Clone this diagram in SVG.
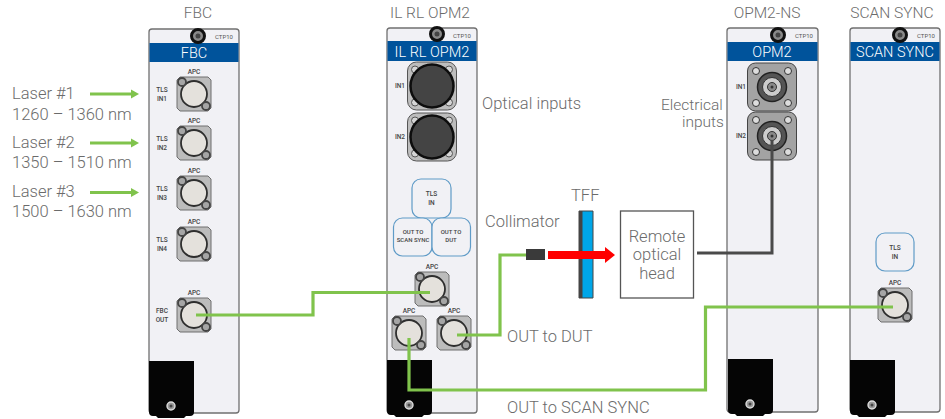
<svg xmlns="http://www.w3.org/2000/svg" width="945" height="419" viewBox="0 0 945 419">
<style>
text{font-family:Roboto,"Liberation Sans",sans-serif;fill:#6b6b6b;font-weight:300}
.lbl{font-size:16.500px}
.ttl{font-size:15.500px;text-anchor:middle}
.mid{text-anchor:middle}
.hd{font-size:14.500px;fill:#fff;text-anchor:middle;font-weight:300}
.ctp{font-size:6px;fill:#555;text-anchor:middle;font-weight:400}
.sm{font-size:6.500px;fill:#444;text-anchor:middle;font-weight:500}
.panel{fill:#f1f1f5;stroke:#707070;stroke-width:1.300}
.blue{fill:#00539b}
.soft{fill:#f1f1f5;stroke:#5f9bc7;stroke-width:1.200}
.gr{fill:none;stroke:#80c34c;stroke-width:3.200;stroke-linejoin:miter}
.dk{fill:none;stroke:#4a4a4a;stroke-width:3}
.head{fill:#80c34c}
</style>
<defs>
<g id="apc">
<path d="M-14-17H14L17-14V14L14 17H-14L-17 14V-14Z" fill="#bcbcbc" stroke="#6e6e6e" stroke-width="1"/>
<circle r="13" fill="#e4e1dc" stroke="#2e2e2e" stroke-width="1.800"/>
<circle cx="-12" cy="-12" r="4" fill="#a5a5a5" stroke="#444" stroke-width="1.800"/>
<circle cx="12" cy="12" r="4" fill="#a5a5a5" stroke="#444" stroke-width="1.800"/>
<text class="sm" y="-20">APC</text>
</g>
<g id="latch">
<path d="M0 0H45V51Q45 55 41 55H37L35 57H9L7 55H4Q0 55 0 51Z" fill="#050505"/>
<circle cx="22" cy="45" r="4" fill="#999" stroke="#ddd" stroke-width="1.400"/>
<circle cx="22" cy="45" r="1.500" fill="#444"/>
</g>
<g id="knob">
<circle r="6.500" fill="#8a8a8a" stroke="#111" stroke-width="3"/>
<circle r="2.500" fill="#444"/>
</g>
<g id="big">
<rect x="-24.500" y="-24" width="49" height="48" rx="9" fill="#bdbdbd" stroke="#555" stroke-width="1"/>
<circle cx="-17" cy="-16.500" r="3.500" fill="#d5d5d5" stroke="#555"/>
<circle cx="17" cy="-16.500" r="3.500" fill="#d5d5d5" stroke="#555"/>
<circle cx="-17" cy="16.500" r="3.500" fill="#d5d5d5" stroke="#555"/>
<circle cx="17" cy="16.500" r="3.500" fill="#d5d5d5" stroke="#555"/>
<circle r="21.500" fill="#444" stroke="#0d0d0d" stroke-width="2.500"/>
</g>
<g id="bnc">
<rect x="-24.500" y="-24" width="49" height="48" rx="8" fill="#a3a3a3" stroke="#444" stroke-width="1"/>
<circle cx="-16" cy="-16" r="3.500" fill="#ddd" stroke="#333"/>
<circle cx="16" cy="-16" r="3.500" fill="#ddd" stroke="#333"/>
<circle cx="-16" cy="16" r="3.500" fill="#ddd" stroke="#333"/>
<circle cx="16" cy="16" r="3.500" fill="#ddd" stroke="#333"/>
<circle r="14.500" fill="#555" stroke="#222" stroke-width="1.500"/>
<circle r="9.500" fill="#ccc" stroke="#333"/>
<circle r="4.500" fill="#888" stroke="#333"/>
<circle r="1.500" fill="#333"/>
</g>
</defs>

<g id="labels">
<text class="lbl" x="12" y="99">Laser #1</text>
<text class="lbl" x="12" y="120">1260 – 1360 nm</text>
<text class="lbl" x="12" y="148">Laser #2</text>
<text class="lbl" x="12" y="168">1350 – 1510 nm</text>
<text class="lbl" x="12" y="197">Laser #3</text>
<text class="lbl" x="12" y="217">1500 – 1630 nm</text>
<text class="lbl" x="482" y="109">Optical inputs</text>
<text class="lbl" style="font-size:15.500px" x="661" y="109.500">Electrical</text>
<text class="lbl" style="font-size:15.500px" x="682" y="127">inputs</text>
<text class="lbl" x="485" y="227">Collimator</text>
<text class="lbl" x="571" y="201">TFF</text>
<text class="lbl" x="507" y="342">OUT to DUT</text>
<text class="lbl" x="507" y="413">OUT to SCAN SYNC</text>
</g>

<g id="fbc">
<text class="ttl" x="198" y="18">FBC</text>
<rect class="panel" x="149" y="29" width="90" height="384" rx="3"/>
<rect class="blue" x="149.500" y="43" width="89" height="19"/>
<text class="hd" x="194" y="58">FBC</text>
<use href="#knob" x="198" y="36"/>
<text class="ctp" x="224" y="39">CTP10</text>
<use href="#apc" x="194" y="94"/>
<use href="#apc" x="194" y="143"/>
<use href="#apc" x="194" y="193"/>
<use href="#apc" x="194" y="244"/>
<use href="#apc" x="194" y="315"/>
<text class="sm" x="162" y="92">TLS</text><text class="sm" x="162" y="101">IN1</text>
<text class="sm" x="162" y="141">TLS</text><text class="sm" x="162" y="150">IN2</text>
<text class="sm" x="162" y="191">TLS</text><text class="sm" x="162" y="200">IN3</text>
<text class="sm" x="162" y="242">TLS</text><text class="sm" x="162" y="251">IN4</text>
<text class="sm" x="162" y="313">FBC</text><text class="sm" x="162" y="322">OUT</text>
<use href="#latch" x="149" y="361"/>
</g>

<g id="il-rl-opm2">
<text class="ttl" x="430" y="18">IL RL OPM2</text>
<rect class="panel" x="387" y="28" width="90" height="385" rx="3"/>
<rect class="blue" x="387.500" y="41" width="89" height="20"/>
<text class="hd" x="432" y="57">IL RL OPM2</text>
<use href="#knob" x="437" y="34"/>
<text class="ctp" x="462" y="38">CTP10</text>
<use href="#big" x="432" y="86"/>
<use href="#big" x="432" y="137"/>
<text class="sm" x="400" y="88">IN1</text>
<text class="sm" x="400" y="139">IN2</text>
<rect class="soft" x="412" y="179" width="39" height="39" rx="9"/>
<rect class="soft" x="393.500" y="218" width="38.500" height="38" rx="9"/>
<rect class="soft" x="432" y="218" width="38.500" height="38" rx="9"/>
<text class="sm" x="431.500" y="196">TLS</text><text class="sm" x="431.500" y="205">IN</text>
<text class="sm" style="font-size:6px" x="413" y="234">OUT TO</text><text class="sm" style="font-size:6px" x="413" y="242">SCAN SYNC</text>
<text class="sm" style="font-size:6px" x="451" y="234">OUT TO</text><text class="sm" style="font-size:6px" x="451" y="242">DUT</text>
<use href="#apc" x="432" y="289"/>
<use href="#apc" x="409" y="333"/>
<use href="#apc" x="454" y="333"/>
<use href="#latch" x="387" y="360"/>
</g>

<g id="opm2-ns">
<text class="ttl" x="767" y="18">OPM2-NS</text>
<rect class="panel" x="727" y="28" width="91" height="384" rx="3"/>
<rect class="blue" x="727.500" y="42" width="90" height="19"/>
<text class="hd" x="772" y="57">OPM2</text>
<use href="#knob" x="778" y="35"/>
<text class="ctp" x="804" y="38">CTP10</text>
<use href="#bnc" x="772" y="87"/>
<use href="#bnc" x="772" y="136"/>
<text class="sm" x="741" y="89">IN1</text>
<text class="sm" x="741" y="138">IN2</text>
<use href="#latch" x="728" y="359"/>
</g>

<g id="scan-sync">
<text class="ttl" x="892" y="18">SCAN SYNC</text>
<rect class="panel" x="850" y="28" width="90" height="384" rx="3"/>
<rect class="blue" x="850.500" y="42" width="89" height="19"/>
<text class="hd" x="895" y="57">SCAN SYNC</text>
<use href="#knob" x="900" y="35"/>
<text class="ctp" x="926" y="38">CTP10</text>
<rect class="soft" x="876" y="233" width="38" height="38" rx="9"/>
<text class="sm" x="895" y="250">TLS</text><text class="sm" x="895" y="259">IN</text>
<use href="#apc" x="895" y="305"/>
<use href="#latch" x="850" y="360"/>
</g>

<g id="remote-head">
<rect x="620.500" y="211" width="73" height="87" fill="#fff" stroke="#555" stroke-width="1.300"/>
<text class="lbl mid" x="657" y="242">Remote</text>
<text class="lbl mid" x="657" y="260">optical</text>
<text class="lbl mid" x="657" y="279">head</text>
</g>

<g id="tff">
<rect x="579" y="211" width="14" height="87" fill="#00a6e8"/>
<rect x="579" y="211" width="3.500" height="87" fill="#444"/>
<path d="M579 211H593V298H579Z" fill="none" stroke="#444" stroke-width="1"/>
</g>

<g id="connectors">
<path class="gr" d="M90 94H132"/>
<path class="head" d="M131 89.500L139 94L131 98.500Z"/>
<path class="gr" d="M90 143H132"/>
<path class="head" d="M131 138.500L139 143L131 147.500Z"/>
<path class="gr" d="M90 192.500H132"/>
<path class="head" d="M131 188L139 192.500L131 197Z"/>
<path class="gr" d="M196 315H313V292.500H430"/>
<path class="gr" d="M457 335H500V255H527"/>
<path class="gr" d="M409 338V390H705.500V307H893"/>
<path class="dk" d="M772 140V253H697"/>
<rect id="collimator" x="526" y="249" width="19" height="11" fill="#3a3a3a"/>
<path d="M548 251H605V247L615 255L605 263V259H548Z" fill="#f00"/>
</g>
</svg>
